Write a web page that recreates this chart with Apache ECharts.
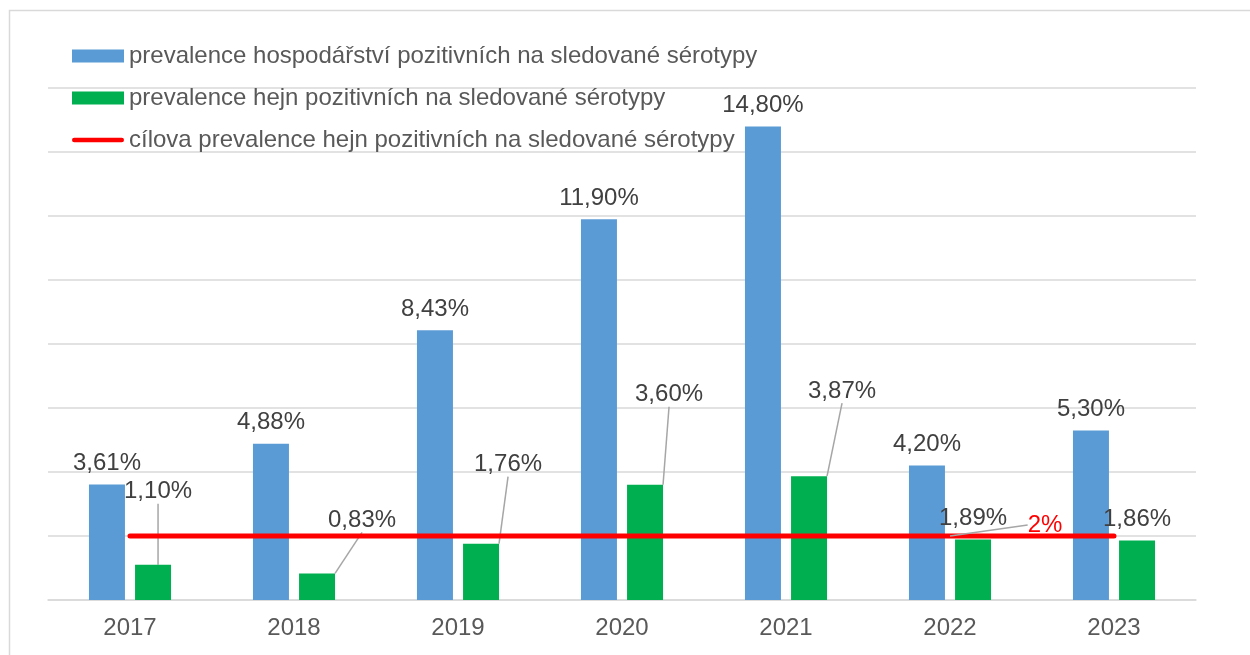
<!DOCTYPE html>
<html lang="cs">
<head>
<meta charset="UTF-8">
<title>Prevalence</title>
<style>
  html, body { margin: 0; padding: 0; background: #fff; }
  #chart { width: 1250px; height: 655px; }
</style>
</head>
<body>
<div id="chart"></div>
<script src="https://cdn.jsdelivr.net/npm/echarts@6/dist/echarts.min.js"></script>
<script>
var years = ['2017', '2018', '2019', '2020', '2021', '2022', '2023'];
var farmValues = [3.61, 4.88, 8.43, 11.90, 14.80, 4.20, 5.30];
var flockValues = [1.10, 0.83, 1.76, 3.60, 3.87, 1.89, 1.86];
var targetValues = [2, 2, 2, 2, 2, 2, 2];
var seriesNames = [
    'prevalence hospodářství pozitivních na sledované sérotypy',
    'prevalence hejn pozitivních na sledované sérotypy',
    'cílova prevalence hejn pozitivních na sledované sérotypy'
];

// posun popisků zelených sloupců (od středu horní hrany sloupce), null = bez posunu
var flockLabelShift = [[5, -73], [45, -53], [27, -79], [24, -90], [33, -85], null, null];
var targetLabelIndex = 5;

var chart = echarts.init(document.getElementById('chart'));
var font = 'Liberation Sans, Arial, sans-serif';

function pct(v) {
    return v.toFixed(2).replace('.', ',') + '%';
}

var flockData = flockValues.map(function (v, i) {
    return {
        value: v,
        labelLine: { show: flockLabelShift[i] != null }
    };
});

var targetData = targetValues.map(function (v, i) {
    if (i !== targetLabelIndex) return v;
    return {
        value: v,
        label: { show: true },
        labelLine: { show: true }
    };
});

var lineIcon = 'path://M2.5,0 L54.5,0 A2.5,2.5 0 0 1 54.5,5 L2.5,5 A2.5,2.5 0 0 1 2.5,0 Z';

var option = {
    backgroundColor: '#fff',
    animation: false,
    textStyle: { fontFamily: font },
    graphic: [{
        type: 'rect',
        shape: { x: 9.5, y: 10.5, width: 1260, height: 700 },
        style: { fill: 'none', stroke: '#D9D9D9', lineWidth: 1.5 },
        silent: true
    }],
    legend: {
        orient: 'vertical',
        left: 67,
        top: 39,
        itemWidth: 52,
        itemHeight: 13,
        itemGap: 18,
        textStyle: { fontSize: 24, color: '#595959', fontFamily: font },
        data: [
            { name: seriesNames[0], icon: 'rect' },
            { name: seriesNames[1], icon: 'rect' },
            { name: seriesNames[2], icon: lineIcon }
        ]
    },
    grid: { left: 48, right: 54, top: 88, bottom: 55 },
    xAxis: {
        type: 'category',
        data: years,
        axisLine: { lineStyle: { color: '#D9D9D9', width: 1.5 } },
        axisTick: { show: false },
        axisLabel: { fontSize: 24, color: '#595959', margin: 16, fontFamily: font }
    },
    yAxis: {
        type: 'value',
        min: 0,
        max: 16,
        interval: 2,
        axisLabel: { show: false },
        axisLine: { show: false },
        axisTick: { show: false },
        splitLine: { lineStyle: { color: '#D9D9D9', width: 1.5 } }
    },
    series: [
        {
            name: seriesNames[0],
            type: 'bar',
            data: farmValues,
            barWidth: 36,
            barGap: '28%',
            itemStyle: { color: '#5B9BD5' },
            label: {
                show: true,
                position: 'top',
                distance: 9,
                fontSize: 24,
                color: '#404040',
                fontFamily: font,
                formatter: function (p) { return pct(p.value); }
            }
        },
        {
            name: seriesNames[1],
            type: 'bar',
            data: flockData,
            barWidth: 36,
            itemStyle: { color: '#00B050' },
            label: {
                show: true,
                position: 'top',
                distance: 9,
                fontSize: 24,
                color: '#404040',
                fontFamily: font,
                formatter: function (p) { return pct(p.value); }
            },
            labelLine: {
                show: true,
                lineStyle: { color: '#A6A6A6', width: 1.5 }
            },
            labelLayout: function (params) {
                var s = flockLabelShift[params.dataIndex];
                if (!s) return {};
                return {
                    x: params.rect.x + params.rect.width / 2 + s[0],
                    y: params.rect.y + s[1],
                    align: 'center',
                    verticalAlign: 'middle'
                };
            }
        },
        {
            name: seriesNames[2],
            type: 'line',
            data: targetData,
            symbol: 'circle',
            symbolSize: 0,
            showSymbol: true,
            z: 5,
            lineStyle: { color: '#FF0000', width: 5, cap: 'round' },
            itemStyle: { color: '#FF0000' },
            label: {
                show: false,
                fontSize: 24,
                color: '#FF0000',
                fontFamily: font,
                formatter: function (p) { return p.value + '%'; }
            },
            labelLine: {
                show: false,
                lineStyle: { color: '#A6A6A6', width: 1.5 }
            },
            labelLayout: function (params) {
                if (params.dataIndex !== targetLabelIndex) return {};
                return {
                    x: params.rect.x + 95,
                    y: params.rect.y - 11,
                    align: 'center',
                    verticalAlign: 'middle'
                };
            }
        }
    ]
};

chart.setOption(option);
</script>
</body>
</html>
